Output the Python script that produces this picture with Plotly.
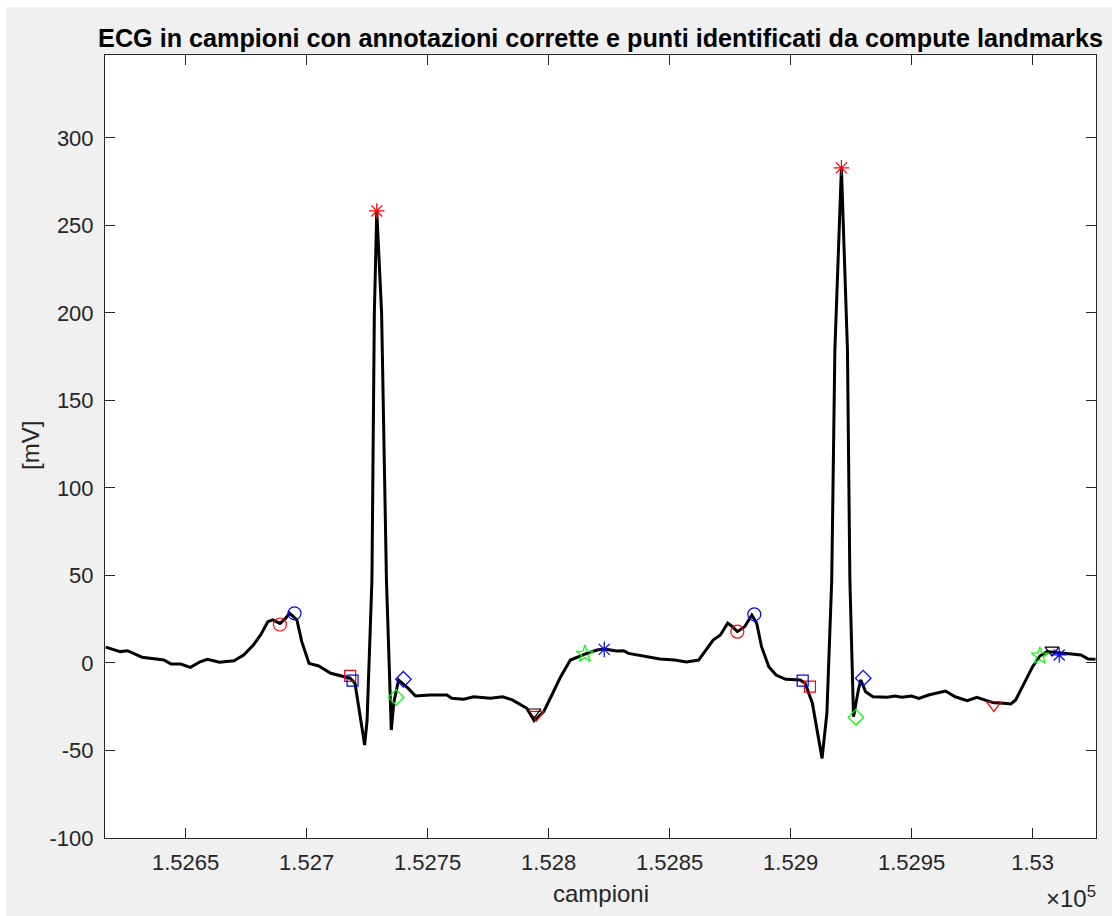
import plotly.graph_objects as go

# ---- ECG trace (samples, mV) ----
ecg_samples = [152617, 152623, 152626, 152632, 152641, 152644, 152648, 152652, 152656, 152659,
               152664, 152670, 152674, 152678, 152681, 152684, 152686, 152689, 152691, 152693,
               152696, 152698, 152701, 152705, 152710, 152714, 152718, 152720, 152724, 152725,
               152727, 152728, 152729, 152731, 152733, 152735, 152736, 152738, 152742, 152745,
               152751, 152758, 152760, 152765, 152769, 152776, 152781, 152785, 152791, 152794,
               152798, 152801, 152805, 152809, 152815, 152820, 152823, 152828, 152831, 152833,
               152840, 152846, 152852, 152857, 152862, 152868, 152871, 152874, 152876, 152878,
               152881, 152884, 152886, 152888, 152891, 152894, 152898, 152904, 152906, 152909,
               152913, 152915, 152917, 152918.3, 152921, 152923.5, 152924.5, 152926, 152928, 152929,
               152931, 152934, 152940, 152943, 152946, 152950, 152953, 152957, 152964, 152968,
               152973, 152977, 152981, 152984, 152988, 152991, 152993, 152996, 153000, 153003,
               153006, 153011, 153015, 153020, 153023, 153026]
ecg_mv = [9.1, 6.5, 7.0, 3.3, 1.7, -0.6, -0.6, -2.5, 0.7, 2.1,
          0.4, 1.3, 4.6, 10.3, 16.0, 23.6, 24.6, 22.6, 25.0, 28.4,
          24.6, 12.2, -0.2, -1.7, -5.9, -7.3, -8.7, -11.6, -46.9, -32.6,
          47.4, 200.0, 258.3, 200.0, 47.4, -38.3, -23.0, -9.7, -14.5, -18.9,
          -18.3, -18.3, -20.2, -20.7, -19.3, -20.2, -19.3, -21.1, -25.9, -33.0,
          -27.8, -19.3, -7.8, 1.7, 5.1, 7.4, 8.0, 6.9, 7.0, 5.5,
          4.0, 2.3, 1.7, 0.6, 1.7, 13.1, 16.0, 22.7, 20.7, 17.9,
          20.7, 27.4, 22.7, 9.3, -2.1, -6.9, -9.3, -9.7, -11.6, -23.0,
          -54.5, -28.7, 47.4, 178.9, 282.9, 178.9, 47.4, -30.7, -15.4, -9.7,
          -16.4, -19.3, -19.6, -18.9, -19.6, -18.9, -20.2, -18.3, -16.0, -19.3,
          -21.5, -19.6, -21.5, -22.7, -23.0, -23.4, -21.1, -12.6, -2.1, 4.0,
          6.5, 5.9, 5.5, 4.6, 2.3, 2.1]

# ---- landmark / annotation points ----
p_ann_x, p_ann_y = [152689, 152878], [22.0, 17.9]            # red circle
p_cl_x, p_cl_y = [152695, 152885], [28.4, 27.8]              # blue circle
qon_ann_x, qon_ann_y = [152718, 152908], [-7.4, -13.5]       # red square
qon_cl_x, qon_cl_y = [152719, 152905], [-10.1, -10.1]        # blue square
r_ann_x, r_ann_y = [152729, 152921], [258.3, 282.9]          # red asterisk
s_cl_x, s_cl_y = [152737, 152927], [-19.6, -31.0]            # green diamond
j_cl_x, j_cl_y = [152740, 152930], [-9.3, -8.7]              # blue diamond
t_ann_x, t_ann_y = [152795, 152984], [-29.5, -24.0]          # red triangle down
t_cl_x, t_cl_y = [152794, 153008], [-28.0, 7.4]              # black triangle down
toff_g_x, toff_g_y = [152815, 153003], [5.1, 4.0]            # green pentagram
toff_b_x, toff_b_y = [152823, 153011], [7.8, 4.6]            # blue asterisk

x_tick_vals = [152650, 152700, 152750, 152800, 152850, 152900, 152950, 153000]
x_tick_text = ["1.5265", "1.527", "1.5275", "1.528", "1.5285", "1.529", "1.5295", "1.53"]
y_tick_vals = [-100, -50, 0, 50, 100, 150, 200, 250, 300]
y_tick_text = ["-100", "-50", "0", "50", "100", "150", "200", "250", "300"]

title_text = "ECG in campioni con annotazioni corrette e punti identificati da compute landmarks"

FONT = "Liberation Sans, Arial, Helvetica, sans-serif"
AX = "#262626"

fig = go.Figure()
fig.add_trace(go.Scatter(x=ecg_samples, y=ecg_mv, mode="lines",
                         line=dict(color="black", width=3), showlegend=False,
                         hoverinfo="skip"))

def add_markers(xs, ys, symbol, color, size):
    fig.add_trace(go.Scatter(x=xs, y=ys, mode="markers", showlegend=False,
                             marker=dict(symbol=symbol, size=size, color=color,
                                         line=dict(color=color, width=1.2))))

add_markers(p_ann_x, p_ann_y, "circle-open", "#ff0000", 13)
add_markers(p_cl_x, p_cl_y, "circle-open", "#0000ff", 13)
add_markers(qon_ann_x, qon_ann_y, "square-open", "#ff0000", 11)
add_markers(qon_cl_x, qon_cl_y, "square-open", "#0000ff", 11)
add_markers(r_ann_x, r_ann_y, "asterisk-open", "#ff0000", 13)
add_markers(s_cl_x, s_cl_y, "diamond-open", "#00ff00", 12)
add_markers(j_cl_x, j_cl_y, "diamond-open", "#0000ff", 12)
add_markers(t_ann_x, t_ann_y, "triangle-down-open", "#ff0000", 13)
add_markers(t_cl_x, t_cl_y, "triangle-down-open", "black", 12)
add_markers(toff_g_x, toff_g_y, "star-open", "#00ff00", 13)
add_markers(toff_b_x, toff_b_y, "asterisk-open", "#0000ff", 13)

W, H = 1112, 916
L, R, T, B = 105, 1096, 55, 838
pw, ph = R - L, B - T

def px_x(p):
    return (p - L) / pw

def px_y(p):
    return (B - p) / ph

fig.update_layout(
    width=W, height=H,
    margin=dict(l=L, r=W - R, t=T, b=H - B, pad=0),
    paper_bgcolor="#f0f0f0", plot_bgcolor="white",
    font=dict(family=FONT, color=AX, size=22),
    title=dict(text="<b>" + title_text + "</b>", x=0.5, xref="paper",
               y=1 - 38 / H, yref="container", yanchor="middle", xanchor="center",
               font=dict(family=FONT, size=25.2, color="black")),
    xaxis=dict(range=[152616.7, 153026.2], tickmode="array", tickvals=x_tick_vals,
               ticktext=x_tick_text, ticks="inside", ticklen=10, tickcolor=AX,
               showline=True, linecolor=AX, linewidth=1, mirror="ticks",
               showgrid=False, zeroline=False, tickfont=dict(size=22, color=AX),
               ticklabelstandoff=5),
    yaxis=dict(range=[-100, 347.4], tickmode="array", tickvals=y_tick_vals,
               ticktext=y_tick_text, ticks="inside", ticklen=10, tickcolor=AX,
               showline=True, linecolor=AX, linewidth=1, mirror="ticks",
               showgrid=False, zeroline=False, tickfont=dict(size=22, color=AX),
               ticklabelstandoff=6),
    annotations=[
        dict(text="campioni", x=0.5, y=px_y(893), xref="paper", yref="paper",
             showarrow=False, xanchor="center", yanchor="middle",
             font=dict(size=24, color=AX)),
        dict(text="[mV]", x=px_x(30), y=px_y(446), xref="paper", yref="paper",
             showarrow=False, xanchor="center", yanchor="middle", textangle=-90,
             font=dict(size=24, color=AX)),
        dict(text="×10<sup>5</sup>", x=px_x(1098), y=px_y(897), xref="paper", yref="paper",
             showarrow=False, xanchor="right", yanchor="middle",
             font=dict(size=24, color=AX)),
    ],
    shapes=[
        dict(type="rect", xref="paper", yref="paper", x0=px_x(0), x1=px_x(W),
             y0=px_y(7), y1=px_y(0), fillcolor="white", line=dict(width=0), layer="above"),
        dict(type="rect", xref="paper", yref="paper", x0=px_x(0), x1=px_x(6),
             y0=px_y(H), y1=px_y(0), fillcolor="white", line=dict(width=0), layer="above"),
    ],
)

fig.write_html("out.html")
